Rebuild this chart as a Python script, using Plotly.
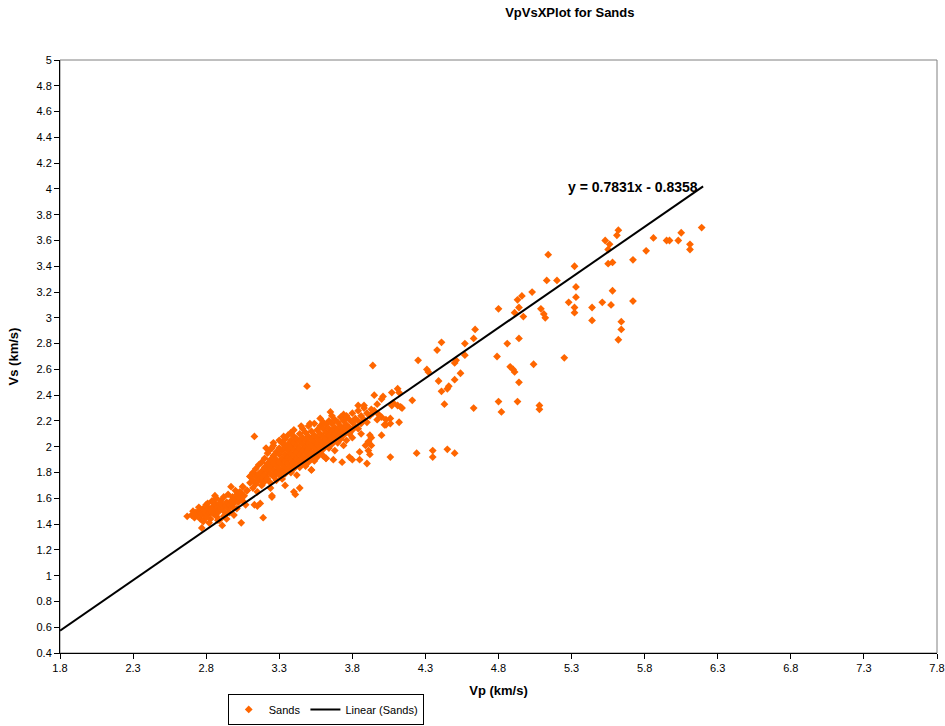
import plotly.graph_objects as go

# ---------------- data ----------------
# scattered / outlying sand samples (Vp, Vs in km/s)
vp_outer = [6.19, 6.05, 6.11, 6.11, 5.95, 5.97, 6.03, 5.86, 5.81, 5.72, 5.62, 5.61, 5.53, 5.56, 5.55,
            5.55, 5.58, 5.32, 5.14, 5.13, 5.20, 5.03, 4.96, 4.93, 4.80, 4.91, 4.94, 4.97, 5.09, 5.11,
            5.12, 5.33, 5.33, 5.28, 5.32, 5.32, 5.44, 5.44, 5.51, 5.57, 5.58, 5.72, 5.64, 5.64, 5.62,
            4.86, 4.94, 4.79, 4.88, 4.90, 4.91, 5.04, 5.25, 4.94, 4.80, 4.82, 4.93, 5.08, 5.08, 4.64,
            4.63, 4.57, 4.57, 4.41, 4.38, 4.51, 4.50, 4.54, 4.50, 4.46, 4.45, 4.41, 4.39, 4.31, 4.32,
            4.25, 4.21, 4.43, 4.63, 4.06, 4.24, 4.35, 4.35, 4.45, 4.50, 3.94, 3.49, 3.13, 4.00, 4.07,
            4.11, 4.12, 4.08, 4.13, 4.14, 4.06, 4.03, 4.02, 4.12, 4.00, 4.01, 3.95, 4.11, 4.07, 3.84,
            3.88, 3.93, 3.94, 3.98, 4.00, 3.65, 3.74, 3.76, 3.97, 4.03, 4.06, 3.92, 3.93, 3.91, 3.89,
            3.93, 3.91, 3.92, 3.85, 3.85, 3.78, 3.80, 3.73, 3.67, 3.62, 3.90, 3.38, 3.45, 3.51, 3.26,
            3.25, 3.33, 3.32, 3.21, 3.52, 3.44, 3.40, 3.41, 3.34, 3.21, 3.05, 3.08, 3.04, 3.17, 3.15,
            3.25, 3.19, 3.15, 3.17, 3.13, 3.24, 3.25, 3.10, 3.15, 3.92, 3.95, 3.97]
vs_outer = [3.70, 3.66, 3.57, 3.53, 3.60, 3.60, 3.60, 3.62, 3.52, 3.45, 3.68, 3.64, 3.60, 3.57, 3.53,
            3.42, 3.43, 3.40, 3.49, 3.29, 3.29, 3.20, 3.17, 3.14, 3.07, 3.04, 3.08, 3.01, 3.07, 3.03,
            3.00, 3.24, 3.16, 3.12, 3.08, 3.04, 3.08, 2.98, 3.12, 3.10, 3.21, 3.13, 2.97, 2.91, 2.83,
            2.80, 2.84, 2.70, 2.62, 2.60, 2.58, 2.64, 2.69, 2.50, 2.35, 2.27, 2.35, 2.32, 2.29, 2.91,
            2.84, 2.80, 2.71, 2.81, 2.75, 2.67, 2.65, 2.57, 2.52, 2.47, 2.45, 2.43, 2.51, 2.60, 2.58,
            2.67, 2.36, 2.33, 2.30, 1.92, 1.95, 1.97, 1.92, 1.98, 1.95, 2.63, 2.47, 2.08, 2.37, 2.42,
            2.45, 2.42, 2.34, 2.31, 2.30, 2.22, 2.21, 2.17, 2.19, 2.09, 2.39, 2.40, 2.32, 2.32, 2.32,
            2.32, 2.29, 2.26, 2.25, 2.23, 2.27, 2.25, 2.23, 2.21, 2.17, 2.18, 2.09, 2.07, 2.04, 2.01,
            2.01, 1.97, 1.94, 1.96, 1.90, 1.92, 1.90, 1.88, 1.90, 1.91, 1.87, 2.11, 2.16, 2.18, 2.03,
            1.99, 2.08, 2.03, 1.99, 1.82, 1.68, 1.65, 1.63, 1.70, 1.77, 1.69, 1.66, 1.64, 1.74, 1.65,
            1.62, 1.45, 1.54, 1.56, 1.55, 1.68, 1.61, 1.77, 1.78, 2.24, 2.28, 2.33]

# low-velocity cluster
vp_low = [2.67, 2.70, 2.72, 2.73, 2.74, 2.75, 2.76, 2.77, 2.77, 2.78, 2.79, 2.79, 2.80, 2.80, 2.81,
          2.81, 2.82, 2.83, 2.83, 2.84, 2.84, 2.85, 2.85, 2.86, 2.86, 2.87, 2.87, 2.88, 2.88, 2.89,
          2.89, 2.90, 2.90, 2.91, 2.91, 2.92, 2.92, 2.93, 2.93, 2.94, 2.95, 2.95, 2.96, 2.96, 2.97,
          2.97, 2.98, 2.98, 2.99, 3.00, 3.00, 3.01, 3.01, 3.02, 3.03, 3.03, 3.04, 3.04, 3.05, 3.05,
          3.06, 3.07, 3.08, 2.82, 2.86, 2.78, 2.94, 2.99, 2.71, 2.75, 2.80, 2.84, 2.88, 2.92]
vs_low = [1.46, 1.47, 1.45, 1.49, 1.47, 1.50, 1.44, 1.48, 1.37, 1.52, 1.46, 1.49, 1.50, 1.55, 1.56,
          1.47, 1.52, 1.44, 1.50, 1.53, 1.58, 1.57, 1.48, 1.51, 1.55, 1.46, 1.60, 1.53, 1.49, 1.56,
          1.43, 1.52, 1.58, 1.39, 1.55, 1.50, 1.61, 1.54, 1.47, 1.57, 1.52, 1.63, 1.55, 1.49, 1.69,
          1.58, 1.53, 1.61, 1.56, 1.66, 1.59, 1.52, 1.63, 1.57, 1.60, 1.65, 1.41, 1.64, 1.69, 1.58,
          1.62, 1.55, 1.66, 1.41, 1.62, 1.42, 1.44, 1.47, 1.50, 1.53, 1.45, 1.49, 1.43, 1.46]

# dense main cluster: Vp columns and the Vs values read in each column
core_vp = [3.10, 3.12, 3.14, 3.16, 3.18, 3.20, 3.22, 3.24, 3.26, 3.28, 3.30, 3.32, 3.34, 3.36,
           3.38, 3.40, 3.42, 3.44, 3.46, 3.48, 3.50, 3.52, 3.54, 3.56, 3.58, 3.60, 3.62, 3.64,
           3.66, 3.68, 3.70, 3.72, 3.74, 3.76, 3.78, 3.80, 3.82, 3.84, 3.86, 3.88, 3.90]
core_vs = [
    [1.72, 1.77], [1.68, 1.80, 1.74], [1.71, 1.83, 1.77], [1.74, 1.79, 1.86],
    [1.70, 1.81, 1.76, 1.88], [1.78, 1.84, 1.73, 1.91], [1.81, 1.75, 1.87, 1.95],
    [1.79, 1.84, 1.90, 1.98, 1.72], [1.82, 1.87, 1.93, 1.77, 2.01], [1.80, 1.85, 1.90, 1.96, 1.74],
    [1.83, 1.88, 1.94, 1.99, 1.78, 2.05], [1.86, 1.91, 1.97, 2.03, 1.81, 1.75],
    [1.84, 1.89, 1.94, 2.00, 2.06, 1.79], [1.87, 1.92, 1.97, 2.02, 1.82, 2.09],
    [1.85, 1.90, 1.95, 2.00, 2.05, 1.80], [1.88, 1.93, 1.98, 2.03, 2.08, 1.83, 2.13],
    [1.91, 1.96, 2.01, 2.06, 1.86, 1.78], [1.89, 1.94, 1.99, 2.04, 2.10, 1.84],
    [1.92, 1.97, 2.02, 2.07, 2.14, 1.87], [1.90, 1.95, 2.00, 2.05, 2.11, 1.85],
    [1.93, 1.98, 2.03, 2.08, 2.16, 1.88], [1.96, 2.01, 2.06, 2.12, 1.91, 1.82],
    [1.94, 1.99, 2.04, 2.09, 2.18, 1.89], [1.97, 2.02, 2.07, 2.13, 1.92],
    [2.00, 2.05, 2.10, 2.16, 1.95, 2.22], [1.98, 2.03, 2.08, 2.14, 2.19, 1.93],
    [2.01, 2.06, 2.11, 2.17, 1.91], [2.04, 2.09, 2.14, 2.20, 1.99],
    [2.02, 2.07, 2.12, 2.18, 2.24], [2.05, 2.10, 2.15, 2.21, 1.97],
    [2.08, 2.13, 2.19, 2.03], [2.06, 2.11, 2.16, 2.23], [2.09, 2.14, 2.20, 2.01],
    [2.12, 2.17, 2.24, 2.05], [2.10, 2.15, 2.21], [2.13, 2.19, 2.26, 2.07],
    [2.16, 2.22], [2.14, 2.20, 2.28], [2.18, 2.24, 2.10], [2.21, 2.30], [2.19, 2.26],
]

# linear trend (Excel trendline)
trend_slope = 0.7831
trend_intercept = -0.8358
trend_vp = [1.8, 6.2]
trend_label = "y = 0.7831x - 0.8358"

# ---------------- assemble ----------------
vp_all = list(vp_outer) + list(vp_low)
vs_all = list(vs_outer) + list(vs_low)
for v, col in zip(core_vp, core_vs):
    for s in col:
        vp_all.append(v)
        vs_all.append(s)

trend_vs = [trend_slope * v + trend_intercept for v in trend_vp]

FONT = "Liberation Sans, Arial, sans-serif"

fig = go.Figure()
fig.add_trace(go.Scatter(
    x=vp_all, y=vs_all, mode="markers", name="Sands",
    marker=dict(symbol="diamond", size=6, color="#FF6600", line=dict(width=0)),
))
fig.add_trace(go.Scatter(
    x=trend_vp, y=trend_vs, mode="lines", name="Linear (Sands)",
    line=dict(color="black", width=2),
))

fig.add_annotation(
    x=5.72, y=4.015, xref="x", yref="y", text="<b>" + trend_label + "</b>",
    showarrow=False, font=dict(family=FONT, size=14, color="black"),
)

fig.add_shape(type="rect", xref="paper", yref="paper", x0=0, x1=1, y0=0, y1=1,
              line=dict(color="#808080", width=1), layer="below")

fig.update_layout(
    width=945, height=726,
    margin=dict(l=60, r=8, t=60, b=73, autoexpand=False),
    paper_bgcolor="white", plot_bgcolor="white",
    font=dict(family=FONT, size=11, color="black"),
    title=dict(text="<b>VpVsXPlot for Sands</b>", x=0.603, xref="container", xanchor="center",
               y=1 - 12 / 726, yref="container", yanchor="middle",
               font=dict(family=FONT, size=13, color="black")),
    showlegend=True,
    legend=dict(orientation="h", x=0.303, xanchor="center", y=-0.069, yanchor="top",
                bordercolor="black", borderwidth=1, font=dict(family=FONT, size=11),
                itemwidth=30, tracegroupgap=0, valign="middle"),
)
fig.update_xaxes(
    range=[1.8, 7.8], tick0=1.8, dtick=0.5, showgrid=False, zeroline=False,
    showline=True, linecolor="black", linewidth=1, ticks="outside", ticklen=5, tickcolor="black",
    tickfont=dict(family=FONT, size=11),
    title=dict(text="<b>Vp (km/s)</b>", font=dict(family=FONT, size=13), standoff=12),
)
fig.update_yaxes(
    range=[0.4, 5.0], tick0=0.4, dtick=0.2, showgrid=False, zeroline=False,
    showline=True, linecolor="black", linewidth=1, ticks="outside", ticklen=5, tickcolor="black",
    tickfont=dict(family=FONT, size=11),
    title=dict(text="<b>Vs (km/s)</b>", font=dict(family=FONT, size=13), standoff=14),
)

fig.write_html("out.html", config={"displayModeBar": False},
               post_script="document.body.style.margin='0px';")
